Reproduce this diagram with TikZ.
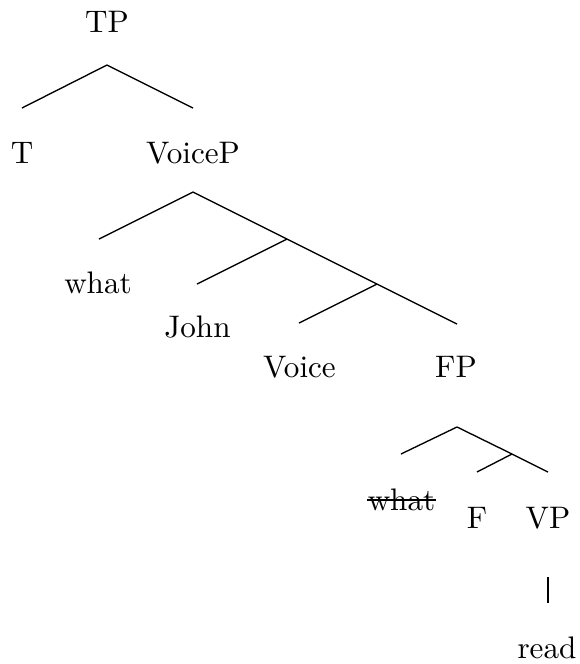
\documentclass[tikz,border=0pt]{standalone}
\begin{document}
\begin{tikzpicture}[x=0.3356pt,y=-0.3356pt,
  lab/.style={anchor=base,inner sep=0pt,font=\fontsize{10.45}{12.5}\selectfont},
  br/.style={line width=0.45pt},
  strike/.style={line width=0.7pt}]
\useasboundingbox (0,0) rectangle (580,664);
% labels
\node[lab] (tp) at (107,32) {TP};
\node[lab] (t) at (22,163) {T};
\node[lab] (voicep) at (193,163) {VoiceP};
\node[lab] (what) at (98,293) {what};
\node[lab] (john) at (197.5,337) {John};
\node[lab] (voice) at (299.5,377) {Voice};
\node[lab] (fp) at (456,377) {FP};
\node[lab] (whatb) at (401.5,510) {what};
\node[lab] (f) at (477,528) {F};
\node[lab] (vp) at (548,528) {VP};
\node[lab] (read) at (547,658) {read};
% branch points
\coordinate (a1) at (107,65);
\coordinate (t1) at (22,108);
\coordinate (v1) at (193,108);
\coordinate (a2) at (193,192);
\coordinate (w1) at (99,239);
\coordinate (b1) at (287,239);
\coordinate (j1) at (197,284);
\coordinate (b2) at (377,284);
\coordinate (vo1) at (299,323);
\coordinate (fp1) at (457,324);
\coordinate (a3) at (457,427);
\coordinate (wb1) at (401,454);
\coordinate (b3) at (512,454);
\coordinate (f1) at (477,472);
\coordinate (vp1) at (548,472);
\coordinate (r0) at (548,577);
\coordinate (r1) at (548,603);
% branches
\draw[br] (t1) -- (a1) -- (v1);
\draw[br] (w1) -- (a2) -- (b1) -- (b2) -- (fp1);
\draw[br] (b1) -- (j1);
\draw[br] (b2) -- (vo1);
\draw[br] (wb1) -- (a3) -- (b3) -- (vp1);
\draw[br] (b3) -- (f1);
\draw[br] (r0) -- (r1);
% strike-through
\draw[strike] ([yshift=-0.3pt]whatb.west) -- ([yshift=-0.3pt]whatb.east);
\end{tikzpicture}
\end{document}
